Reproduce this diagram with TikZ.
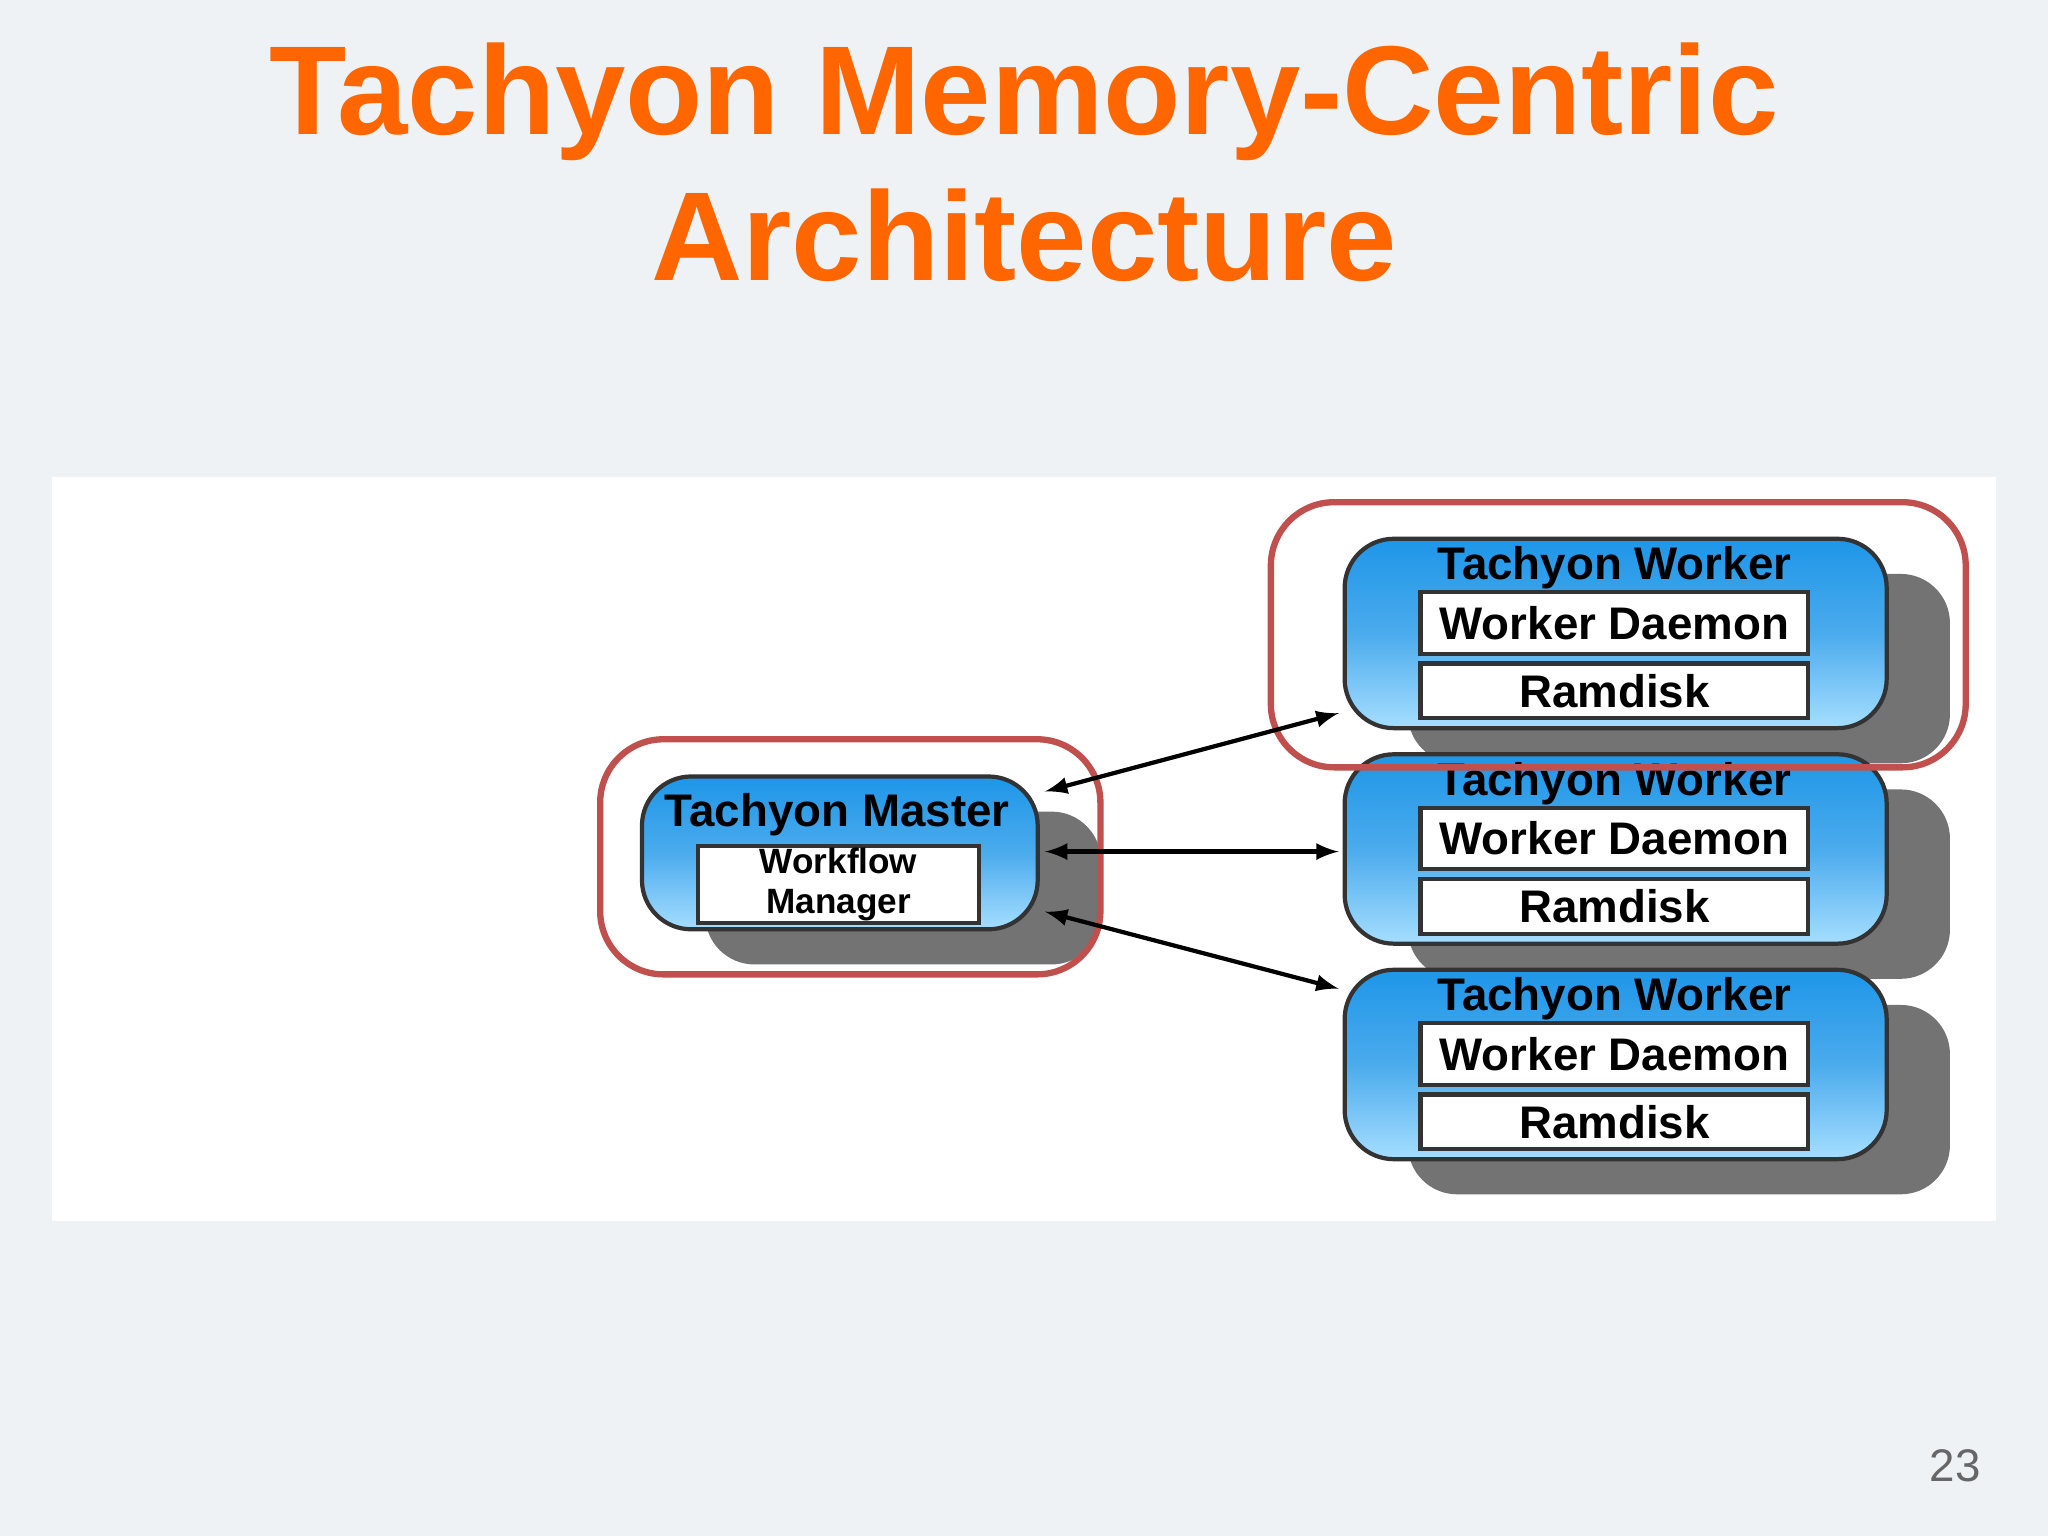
\documentclass[tikz,border=0pt]{standalone}
\usepackage{fontspec}
\setmainfont{Liberation Sans}
\usetikzlibrary{shapes,arrows,fit,calc,positioning,shadows}
\definecolor{slidebg}{HTML}{EEF2F4}
\definecolor{titleorange}{HTML}{FF6600}
\definecolor{boxblue}{HTML}{1E96E8}
\definecolor{lightblue}{HTML}{7FD0FF}
\definecolor{markred}{HTML}{C0504D}
\newlength{\pxu}\setlength{\pxu}{0.01306cm}
\tikzset{blk/.style={draw=black!80, line width=1.2pt, rounded corners=14pt, top color=boxblue, bottom color=lightblue!70, middle color=boxblue!80,
  drop shadow={shadow xshift=18pt, shadow yshift=-10pt, fill=black!55, opacity=1}}}
\tikzstyle{inbox}=[draw=black!80, fill=white, line width=1.2pt, minimum width=297\pxu, inner sep=0pt, font=\bfseries\fontsize{13}{15}\selectfont]
\tikzstyle{redmark}=[draw=markred, line width=1.8pt, rounded corners=18pt]

\begin{document}
\begin{tikzpicture}[x=0.01306cm, y=-0.01306cm, >=latex, line width=1.2pt]
\fill[slidebg] (0,0) rectangle (1568,1176);
\useasboundingbox (0,0) rectangle (1568,1176);
\fill[white] (40,365) rectangle (1528,935);
\node[text=titleorange, font=\bfseries\fontsize{36}{38}\selectfont] (T1) at (784,78) {Tachyon Memory-Centric};
\node[text=titleorange, font=\bfseries\fontsize{36}{38}\selectfont] (T2) at (784,180) {Architecture};
\node[text=black!60, font=\fontsize{13}{15}\selectfont] (pg) at (1497,1122) {23};

% master
\node[blk, minimum width=303\pxu, minimum height=117\pxu] (M) at (643,653) {};
\node[font=\bfseries\fontsize{13}{15}\selectfont] (Mt) at (641,624) {Tachyon Master};
\node[inbox, minimum width=215\pxu, minimum height=59\pxu, align=center, font=\bfseries\fontsize{10}{11.5}\selectfont] (Mw) at (642,677) {Workflow\\Manager};
\node[redmark, minimum width=383\pxu, minimum height=180\pxu] (Mr) at (651,656) {};

% workers
\foreach \i/\y in {1/485, 2/650, 3/815}{
  \node[blk, minimum width=415\pxu, minimum height=145\pxu] (W\i) at (1237,\y) {};
  \node[font=\bfseries\fontsize{13}{15}\selectfont] (W\i t) at (1236,\y-50) {Tachyon Worker};
  \node[inbox, minimum height=47\pxu] (W\i d) at (1236,\y-8) {Worker Daemon};
  \node[inbox, minimum height=42\pxu] (W\i r) at (1236,\y+44) {Ramdisk};
}
\node[redmark, minimum width=532\pxu, minimum height=203\pxu] (Wr) at (1239,486) {};

\coordinate (m1) at (800,606); \coordinate (w1) at (1025,546);
\coordinate (m2) at (800,652); \coordinate (w2) at (1025,652);
\coordinate (m3) at (800,698); \coordinate (w3) at (1025,757);
\draw[<->] (m1) -- (w1);
\draw[<->] (m2) -- (w2);
\draw[<->] (m3) -- (w3);
\end{tikzpicture}
\end{document}
